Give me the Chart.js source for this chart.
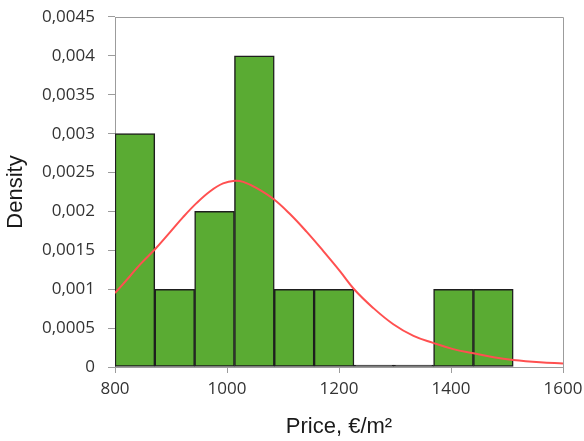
<!DOCTYPE html>
<html>
<head>
<meta charset="utf-8">
<script src="https://cdn.jsdelivr.net/npm/chart.js@4.4.1/dist/chart.umd.min.js"></script>
<style>
  html, body { margin: 0; padding: 0; background: #ffffff; }
  #wrap { width: 584px; height: 441px; }
</style>
</head>
<body>
<div id="wrap"><canvas id="c" width="584" height="441"></canvas></div>
<script>
// Histogram bins (price, €/m²) and their densities
const binEdges = [800, 871.1, 942.2, 1013.3, 1084.4, 1155.6, 1226.7, 1297.8, 1368.9, 1440, 1511.1];
const binDensity = [0.003, 0.001, 0.002, 0.004, 0.001, 0.001, 0, 0, 0.001, 0.001];

// Fitted density curve
const curveX = [800, 827, 845, 871, 898, 922, 946, 970, 993, 1014, 1029, 1053, 1083, 1112, 1142, 1172, 1202, 1227, 1261, 1297, 1333, 1368, 1404, 1440, 1476, 1511, 1559, 1600];
const curveY = [0.00095, 0.00117, 0.00132, 0.00151, 0.00173, 0.00193, 0.00211, 0.00226, 0.00236, 0.002395, 0.00238, 0.0023, 0.00216, 0.00197, 0.00174, 0.00149, 0.00123, 0.001, 0.00076, 0.00055, 0.0004, 0.00031, 0.00023, 0.000176, 0.000125, 0.00009, 0.00006, 0.000045];

// Axis ticks
const xTicks = [800, 1000, 1200, 1400, 1600];
const yTickLabels = ['0', '0,0005', '0,001', '0,0015', '0,002', '0,0025', '0,003', '0,0035', '0,004', '0,0045'];

const barGreen = '#5aab33';
const barEdge = '#1e1e1e';
const axisGrey = '#9c9c9c';

const barPoints = binDensity.map((d, i) => ({ x: (binEdges[i] + binEdges[i + 1]) / 2, y: d }));
const curvePoints = curveX.map((x, i) => ({ x: x, y: curveY[i] }));

// Light frame on the top and right edges of the plot area
const framePlugin = {
  id: 'frame',
  beforeDatasetsDraw(chart) {
    const { ctx, chartArea: a } = chart;
    ctx.save();
    ctx.strokeStyle = axisGrey;
    ctx.lineWidth = 1;
    ctx.beginPath();
    ctx.moveTo(a.left, a.top + 0.5);
    ctx.lineTo(a.right + 0.5, a.top + 0.5);
    ctx.lineTo(a.right + 0.5, a.bottom);
    ctx.stroke();
    ctx.restore();
  }
};

new Chart(document.getElementById('c'), {
  type: 'bar',
  data: {
    datasets: [
      {
        type: 'line',
        data: curvePoints,
        borderColor: '#ff5050',
        borderWidth: 2,
        pointRadius: 0,
        tension: 0.4,
        fill: false,
        order: 0
      },
      {
        type: 'bar',
        data: barPoints,
        backgroundColor: c => (c.raw && c.raw.y === 0 ? barEdge : barGreen),
        borderColor: barEdge,
        borderWidth: 1.5,
        borderSkipped: false,
        barPercentage: 1,
        categoryPercentage: 1,
        minBarLength: 2,
        order: 1
      }
    ]
  },
  options: {
    responsive: false,
    devicePixelRatio: 1,
    animation: false,
    layout: { padding: { top: 17, right: 21, left: 0, bottom: 0 } },
    plugins: {
      legend: { display: false },
      tooltip: { enabled: false }
    },
    scales: {
      x: {
        type: 'linear',
        min: 800,
        max: 1600,
        offset: false,
        afterFit: s => { s.height = 74; s.paddingLeft = 0; s.paddingRight = 0; },
        afterBuildTicks: s => { s.ticks = xTicks.map(v => ({ value: v })); },
        ticks: {
          font: { family: 'Open Sans', size: 17 },
          color: '#333333',
          padding: 6,
          maxRotation: 0,
          callback: v => String(v)
        },
        grid: { offset: false, drawOnChartArea: false, drawTicks: true, tickLength: 6, color: axisGrey },
        border: { color: axisGrey, width: 1 },
        title: {
          display: true,
          text: 'Price, €/m²',
          font: { family: 'Liberation Sans', size: 22 },
          color: '#1a1a1a',
          padding: { top: 0, bottom: 1 }
        }
      },
      y: {
        min: 0,
        max: 0.0045,
        afterFit: s => { s.width = 115; s.paddingTop = 0; s.paddingBottom = 0; },
        afterBuildTicks: s => { s.ticks = yTickLabels.map((t, i) => ({ value: i * 0.0005 })); },
        ticks: {
          font: { family: 'Open Sans', size: 17 },
          color: '#333333',
          padding: 13,
          callback: (v, i) => yTickLabels[i]
        },
        grid: { drawOnChartArea: false, drawTicks: true, tickLength: 7, color: axisGrey },
        border: { color: axisGrey, width: 1 },
        title: {
          display: true,
          text: 'Density',
          font: { family: 'Liberation Sans', size: 22 },
          color: '#1a1a1a',
          padding: { top: 3, bottom: 0 }
        }
      }
    }
  },
  plugins: [framePlugin]
});
</script>
</body>
</html>
